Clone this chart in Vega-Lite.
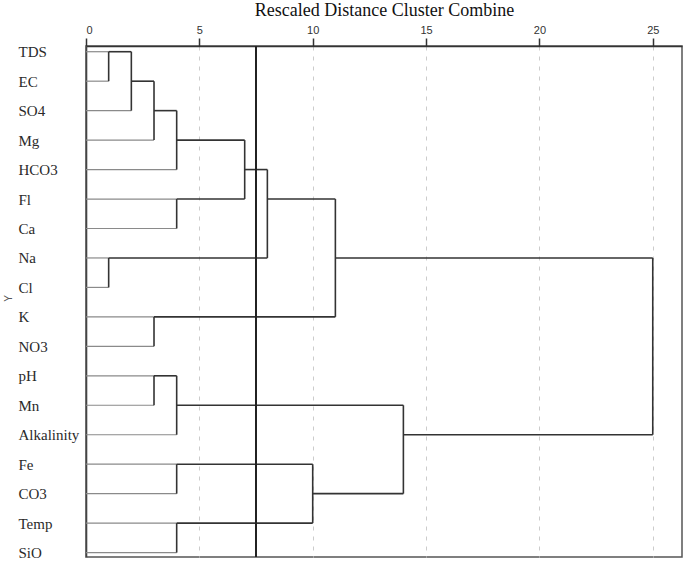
{
  "$schema": "https://vega.github.io/schema/vega-lite/v6.json",
  "autosize": "none",
  "width": 596,
  "height": 511,
  "padding": {"left": 86, "top": 46, "right": 3, "bottom": 4},
  "background": "white",
  "config": {
    "view": {"stroke": "#555555", "strokeWidth": 1.5},
    "axis": {"labelOverlap": false}
  },
  "data": {
    "values": [
      {"x": 0, "x2": 1, "y": 0, "y2": 0, "kind": "leaf"},
      {"x": 0, "x2": 1, "y": 1, "y2": 1, "kind": "leaf"},
      {"x": 0, "x2": 2, "y": 2, "y2": 2, "kind": "leaf"},
      {"x": 0, "x2": 3, "y": 3, "y2": 3, "kind": "leaf"},
      {"x": 0, "x2": 4, "y": 4, "y2": 4, "kind": "leaf"},
      {"x": 0, "x2": 4, "y": 5, "y2": 5, "kind": "leaf"},
      {"x": 0, "x2": 4, "y": 6, "y2": 6, "kind": "leaf"},
      {"x": 0, "x2": 1, "y": 7, "y2": 7, "kind": "leaf"},
      {"x": 0, "x2": 1, "y": 8, "y2": 8, "kind": "leaf"},
      {"x": 0, "x2": 3, "y": 9, "y2": 9, "kind": "leaf"},
      {"x": 0, "x2": 3, "y": 10, "y2": 10, "kind": "leaf"},
      {"x": 0, "x2": 3, "y": 11, "y2": 11, "kind": "leaf"},
      {"x": 0, "x2": 3, "y": 12, "y2": 12, "kind": "leaf"},
      {"x": 0, "x2": 4, "y": 13, "y2": 13, "kind": "leaf"},
      {"x": 0, "x2": 4, "y": 14, "y2": 14, "kind": "leaf"},
      {"x": 0, "x2": 4, "y": 15, "y2": 15, "kind": "leaf"},
      {"x": 0, "x2": 4, "y": 16, "y2": 16, "kind": "leaf"},
      {"x": 0, "x2": 4, "y": 17, "y2": 17, "kind": "leaf"},
      {"x": 1, "x2": 1, "y": 0, "y2": 1, "kind": "cluster"},
      {"x": 1, "x2": 2, "y": 0, "y2": 0, "kind": "cluster"},
      {"x": 2, "x2": 2, "y": 0, "y2": 2, "kind": "cluster"},
      {"x": 2, "x2": 3, "y": 1, "y2": 1, "kind": "cluster"},
      {"x": 3, "x2": 3, "y": 1, "y2": 3, "kind": "cluster"},
      {"x": 3, "x2": 4, "y": 2, "y2": 2, "kind": "cluster"},
      {"x": 4, "x2": 4, "y": 2, "y2": 4, "kind": "cluster"},
      {"x": 4, "x2": 7, "y": 3, "y2": 3, "kind": "cluster"},
      {"x": 4, "x2": 4, "y": 5, "y2": 6, "kind": "cluster"},
      {"x": 4, "x2": 7, "y": 5, "y2": 5, "kind": "cluster"},
      {"x": 7, "x2": 7, "y": 3, "y2": 5, "kind": "cluster"},
      {"x": 7, "x2": 8, "y": 4, "y2": 4, "kind": "cluster"},
      {"x": 1, "x2": 1, "y": 7, "y2": 8, "kind": "cluster"},
      {"x": 1, "x2": 8, "y": 7, "y2": 7, "kind": "cluster"},
      {"x": 8, "x2": 8, "y": 4, "y2": 7, "kind": "cluster"},
      {"x": 8, "x2": 11, "y": 5, "y2": 5, "kind": "cluster"},
      {"x": 3, "x2": 3, "y": 9, "y2": 10, "kind": "cluster"},
      {"x": 3, "x2": 11, "y": 9, "y2": 9, "kind": "cluster"},
      {"x": 11, "x2": 11, "y": 5, "y2": 9, "kind": "cluster"},
      {"x": 11, "x2": 25, "y": 7, "y2": 7, "kind": "cluster"},
      {"x": 3, "x2": 3, "y": 11, "y2": 12, "kind": "cluster"},
      {"x": 3, "x2": 4, "y": 11, "y2": 11, "kind": "cluster"},
      {"x": 4, "x2": 4, "y": 11, "y2": 13, "kind": "cluster"},
      {"x": 4, "x2": 14, "y": 12, "y2": 12, "kind": "cluster"},
      {"x": 4, "x2": 4, "y": 14, "y2": 15, "kind": "cluster"},
      {"x": 4, "x2": 10, "y": 14, "y2": 14, "kind": "cluster"},
      {"x": 4, "x2": 4, "y": 16, "y2": 17, "kind": "cluster"},
      {"x": 4, "x2": 10, "y": 16, "y2": 16, "kind": "cluster"},
      {"x": 10, "x2": 10, "y": 14, "y2": 16, "kind": "cluster"},
      {"x": 10, "x2": 14, "y": 15, "y2": 15, "kind": "cluster"},
      {"x": 14, "x2": 14, "y": 12, "y2": 15, "kind": "cluster"},
      {"x": 14, "x2": 25, "y": 13, "y2": 13, "kind": "cluster"},
      {"x": 25, "x2": 25, "y": 7, "y2": 13, "kind": "cluster"}
    ]
  },
  "layer": [
    {
      "encoding": {
        "x": {
          "field": "x", "type": "quantitative",
          "scale": {"domain": [0, 26.29], "nice": false, "zero": false},
          "axis": {
            "orient": "top",
            "values": [0, 5, 10, 15, 20, 25],
            "domain": true,
            "domainColor": "#333333",
            "domainWidth": 1.6,
            "grid": true,
            "gridDash": [4, 6],
            "gridColor": "#cccccc",
            "gridWidth": 1,
            "ticks": true,
            "tickSize": 8,
            "tickColor": "#333333",
            "tickWidth": 1.5,
            "labelFont": "Liberation Sans",
            "labelFontSize": 11,
            "labelColor": "#333333",
            "labelPadding": 3,
            "labelOverlap": false,
            "title": "Rescaled Distance Cluster Combine",
            "titleFont": "Liberation Serif",
            "titleFontSize": 18,
            "titleFontWeight": "normal",
            "titleColor": "#111111",
            "titleBaseline": "alphabetic",
            "titleY": -31
          }
        },
        "x2": {"field": "x2"},
        "y": {
          "field": "y", "type": "quantitative",
          "scale": {"domain": [-0.194, 17.15], "reverse": true, "nice": false, "zero": false},
          "axis": {
            "orient": "left",
            "values": [0, 1, 2, 3, 4, 5, 6, 7, 8, 9, 10, 11, 12, 13, 14, 15, 16, 17],
            "labelExpr": "['TDS','EC','SO4','Mg','HCO3','Fl','Ca','Na','Cl','K','NO3','pH','Mn','Alkalinity','Fe','CO3','Temp','SiO'][datum.value]",
            "labelOverlap": false,
            "labelBound": false,
            "domain": true,
            "domainColor": "#444444",
            "domainWidth": 1.6,
            "grid": false,
            "ticks": false,
            "tickSize": 0,
            "labelAlign": "left",
            "labelPadding": 68,
            "labelFont": "Liberation Serif",
            "labelFontSize": 15,
            "labelColor": "#2a2a2a",
            "title": "Y",
            "titleFont": "Liberation Sans",
            "titleFontSize": 10,
            "titleFontWeight": "normal",
            "titleColor": "#555555",
            "titleAngle": -90,
            "titleX": -73,
            "titleY": 252
          }
        },
        "y2": {"field": "y2"}
      },
      "layer": [
        {
          "transform": [{"filter": "datum.kind === 'leaf'"}],
          "mark": {"type": "rule", "color": "#8a8a8a", "strokeWidth": 1.2}
        },
        {
          "transform": [{"filter": "datum.kind === 'cluster'"}],
          "mark": {"type": "rule", "color": "#333333", "strokeWidth": 1.6}
        }
      ]
    },
    {
      "mark": {"type": "rule", "color": "#222222", "strokeWidth": 1.6},
      "encoding": {"x": {"datum": 7.5}}
    }
  ]
}
